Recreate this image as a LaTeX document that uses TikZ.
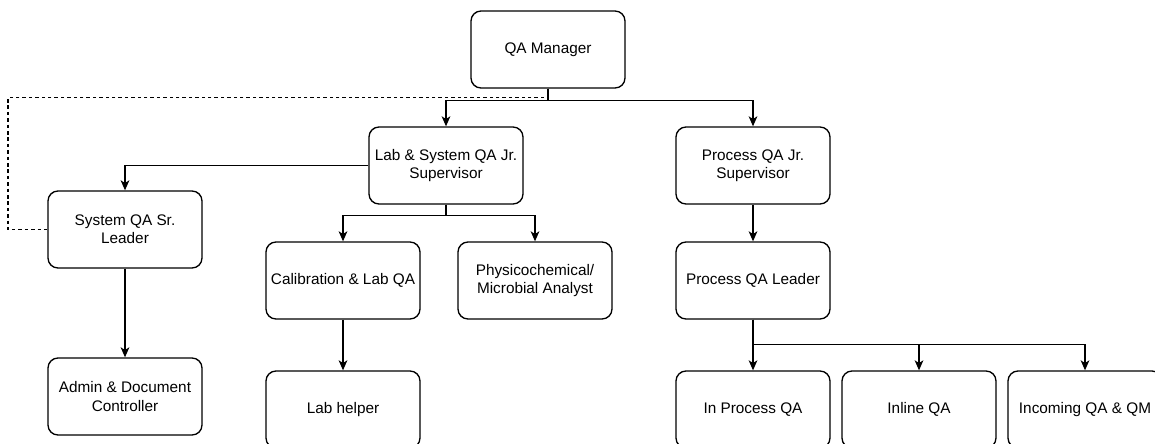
\documentclass[tikz,border=0pt]{standalone}
\usepackage{fontspec}
\setmainfont{Liberation Sans}
\usetikzlibrary{arrows.meta}
\tikzset{
  orgbox/.style={draw, line width=1pt, rounded corners=7.5pt, fill=white,
    minimum width=115.5pt, minimum height=57.75pt, align=center,
    inner sep=2pt, font=\fontsize{11.5}{13.8}\selectfont},
  orgarrow/.style={draw, line width=1pt, -{Stealth[length=7.5pt,width=6.5pt,inset=2pt]}},
  orgdash/.style={draw, line width=1pt, dash pattern=on 2.6pt off 2.2pt},
}
\begin{document}
\begin{tikzpicture}
% Org chart, coordinates in screen pixels (y grows downwards)
\def\pxsz{0.75pt}
\begin{scope}[x=\pxsz, y=-\pxsz, line cap=butt, line join=miter]
  % Page frame
  \useasboundingbox (0,0) rectangle (1155,443);
  \clip (0,0) rectangle (1155,443);
  % Boxes
  \node[orgbox] (mgr) at (548,49.5) {QA Manager};
  \node[orgbox] (labsup) at (446,165.5) {Lab \& System QA Jr.\\Supervisor};
  \node[orgbox] (procsup) at (753,165.5) {Process QA Jr.\\Supervisor};
  \node[orgbox] (sysl) at (125,229.5) {System QA Sr.\\Leader};
  \node[orgbox] (admin) at (125,396.5) {Admin \& Document\\Controller};
  \node[orgbox] (calib) at (343,280.5) {Calibration \& Lab QA};
  \node[orgbox] (phys) at (535,280.5) {Physicochemical/\\Microbial Analyst};
  \node[orgbox] (procl) at (753,280.5) {Process QA Leader};
  \node[orgbox] (helper) at (343,409.5) {Lab helper};
  \node[orgbox] (inproc) at (753,409.5) {In Process QA};
  \node[orgbox] (inline) at (919,409.5) {Inline QA};
  \node[orgbox] (incoming) at (1085,409.5) {Incoming QA \& QM};
  % Dotted reporting line
  \coordinate (loopc) at (8,229.5);
  \draw[orgdash] (mgr.south) -- ++(0,9) -| (loopc) -- (sysl.west);
  % Connectors
  \draw[orgarrow] (mgr.south) -- ++(0,12) -| (labsup.north);
  \draw[orgarrow] (mgr.south) -- ++(0,12) -| (procsup.north);
  \draw[orgarrow] (labsup.west) -| (sysl.north);
  \draw[orgarrow] (labsup.south) -- ++(0,11) -| (calib.north);
  \draw[orgarrow] (labsup.south) -- ++(0,11) -| (phys.north);
  \draw[orgarrow] (sysl) -- (admin);
  \draw[orgarrow] (calib) -- (helper);
  \draw[orgarrow] (procsup) -- (procl);
  \draw[orgarrow] (procl.south) -- ++(0,25) -| (inproc.north);
  \draw[orgarrow] (procl.south) -- ++(0,25) -| (inline.north);
  \draw[orgarrow] (procl.south) -- ++(0,25) -| (incoming.north);
\end{scope}
\end{tikzpicture}
\end{document}
